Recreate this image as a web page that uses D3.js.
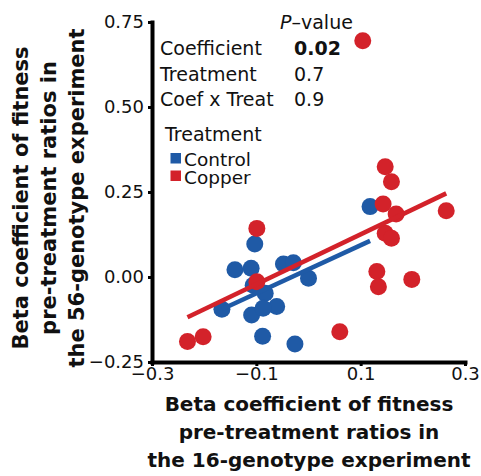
<!DOCTYPE html>
<html lang="en">
<head>
  <meta charset="UTF-8">
  <title>Beta coefficients</title>
  <script src="https://d3js.org/d3.v7.min.js"></script>
  <style>
    body { margin: 0; background: white; }
    text { font-family: "DejaVu Sans", sans-serif; fill: #111; }
  </style>
</head>
<body>
<script>
  // values
  const controlX = [0.118, -0.103, -0.141, -0.110, -0.048, -0.029, -0.000, -0.106, -0.083, -0.166, -0.061, -0.109, -0.087, -0.088, -0.026]
  const controlY = [0.207, 0.097, 0.021, 0.026, 0.038, 0.042, -0.004, -0.024, -0.048, -0.095, -0.087, -0.112, -0.092, -0.174, -0.197]
  const copperX = [-0.099, -0.099, 0.147, 0.159, 0.143, 0.168, 0.147, 0.159, 0.131, 0.134, 0.198, 0.264, 0.060, -0.202, -0.232, 0.104]
  const copperY = [0.143, -0.014, 0.324, 0.280, 0.215, 0.185, 0.129, 0.114, 0.016, -0.029, -0.007, 0.195, -0.161, -0.176, -0.190, 0.695]

  const treatments = ['Control', 'Copper']
  const fitIntercept = [0.0226, 0.052]
  const fitSlope = [0.708, 0.735]

  const terms = ['Coefficient', 'Treatment', 'Coef x Treat']
  const pValues = ['0.02', '0.7', '0.9']

  const xTicks = [-0.3, -0.1, 0.1, 0.3]
  const yTicks = [-0.25, 0, 0.25, 0.5, 0.75]

  const colors = { Control: '#1f5aa6', Copper: '#d3222a' }

  const width = 481
  const height = 476

  const svg = d3.select('body')
    .append('svg')
    .attr('width', width)
    .attr('height', height)

  const x = d3.scaleLinear().domain([-0.3, 0.3]).range([152, 465])
  const y = d3.scaleLinear().domain([-0.25, 0.75]).range([362, 22])

  const series = [
    { name: 'Control', xs: controlX, ys: controlY },
    { name: 'Copper', xs: copperX, ys: copperY }
  ]

  // points
  series.forEach(s => {
    svg.append('g')
      .selectAll('circle')
      .data(s.xs.map((v, i) => [v, s.ys[i]]))
      .enter()
      .append('circle')
      .attr('cx', d => x(d[0]))
      .attr('cy', d => y(d[1]))
      .attr('r', 8.5)
      .attr('fill', colors[s.name])
  })

  // fitted lines across each group's range
  series.forEach((s, i) => {
    const ext = d3.extent(s.xs)
    const pts = ext.map(v => [v, fitIntercept[i] + fitSlope[i] * v])
    svg.append('path')
      .attr('d', d3.line().x(d => x(d[0])).y(d => y(d[1]))(pts))
      .attr('stroke', colors[s.name])
      .attr('stroke-width', 4.5)
      .attr('fill', 'none')
  })

  // axes
  const xAxis = svg.append('g')
    .attr('transform', 'translate(0,362)')
    .call(d3.axisBottom(x).tickValues(xTicks).tickFormat(d3.format('.1f')).tickSize(4).tickSizeOuter(0).tickPadding(1))
  const yAxis = svg.append('g')
    .attr('transform', 'translate(152,0)')
    .call(d3.axisLeft(y).tickValues(yTicks).tickFormat(d3.format('.2f')).tickSize(4).tickSizeOuter(0).tickPadding(4))

  ;[xAxis, yAxis].forEach(a => {
    a.select('.domain').attr('stroke', '#000').attr('stroke-width', 4).attr('stroke-linecap', 'square')
    a.selectAll('.tick line').attr('stroke', '#000').attr('stroke-width', 3)
    a.selectAll('.tick text')
      .style('font-family', '"DejaVu Sans", sans-serif')
      .style('font-size', '18px')
      .attr('fill', '#111')
  })

  // axis titles
  const xTitle = ['Beta coefficient of fitness', 'pre-treatment ratios in', 'the 16-genotype experiment']
  const yTitle = ['Beta coefficient of fitness', 'pre-treatment ratios in', 'the 56-genotype experiment']

  svg.append('g')
    .selectAll('text')
    .data(xTitle)
    .enter()
    .append('text')
    .attr('x', 309)
    .attr('y', (d, i) => 411 + i * 28)
    .attr('text-anchor', 'middle')
    .style('font-weight', 'bold')
    .style('font-size', '20px')
    .text(d => d)

  svg.append('g')
    .selectAll('text')
    .data(yTitle)
    .enter()
    .append('text')
    .attr('transform', (d, i) => `translate(${28 + i * 28},198) rotate(-90)`)
    .attr('text-anchor', 'middle')
    .style('font-weight', 'bold')
    .style('font-size', '21px')
    .text(d => d)

  // p-value table
  const pv = svg.append('text')
    .attr('x', 280)
    .attr('y', 29)
    .style('font-size', '19px')
  pv.append('tspan').style('font-style', 'italic').text('P')
  pv.append('tspan').text('\u2013value')

  terms.forEach((t, i) => {
    svg.append('text')
      .attr('x', 160)
      .attr('y', 55 + i * 25.5)
      .style('font-size', '19px')
      .text(t)
    svg.append('text')
      .attr('x', 294)
      .attr('y', 55 + i * 25.5)
      .style('font-size', '19px')
      .style('font-weight', +pValues[i] < 0.05 ? 'bold' : 'normal')
      .text(pValues[i])
  })

  // legend
  svg.append('text')
    .attr('x', 165)
    .attr('y', 141)
    .style('font-size', '19px')
    .text('Treatment')

  treatments.forEach((t, i) => {
    svg.append('rect')
      .attr('x', 170.5)
      .attr('y', 153 + i * 17.5)
      .attr('width', 10.5)
      .attr('height', 10.5)
      .attr('fill', colors[t])
    svg.append('text')
      .attr('x', 184)
      .attr('y', 166 + i * 17.5)
      .style('font-size', '18.5px')
      .text(t)
  })
</script>
</body>
</html>
